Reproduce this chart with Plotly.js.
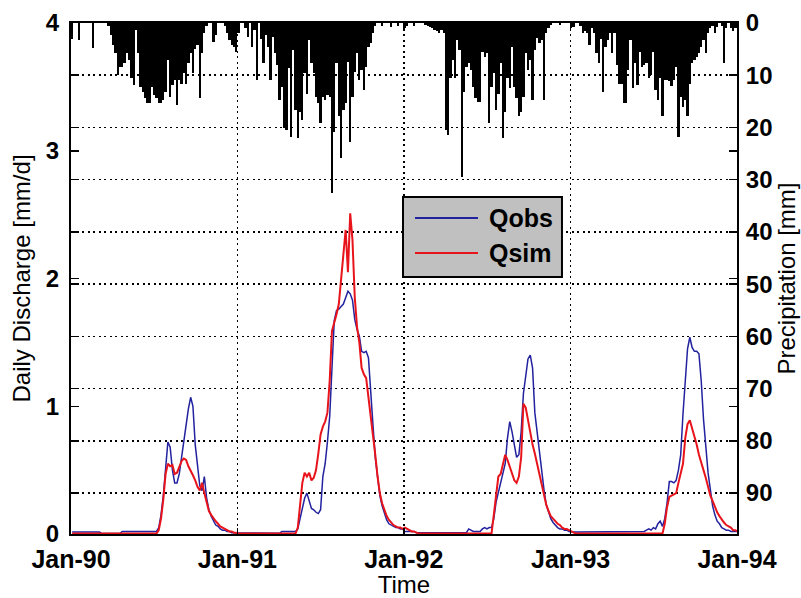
<!DOCTYPE html>
<html>
<head>
<meta charset="utf-8">
<script src="https://cdn.plot.ly/plotly-3.0.1.min.js"></script>
<style>
  html, body { margin: 0; padding: 0; background: #ffffff; }
  #chart { width: 801px; height: 598px; }
</style>
</head>
<body>
<div id="chart"></div>
<script>
// Daily discharge (observed vs simulated) with precipitation hanging from the top,
// Jan 1990 - Dec 1993, sampled every 5 days.

const START_DATE = '1990-01-01';
const STEP_DAYS = 5;

const seriesNames = ['Qobs', 'Qsim'];

const yearTicks = ['1990-01-01', '1991-01-01', '1992-01-01', '1993-01-01', '1994-01-01'];
const yearTickLabels = ['Jan-90', 'Jan-91', 'Jan-92', 'Jan-93', 'Jan-94'];

const dischargeTicks = [0, 1, 2, 3, 4];
const precipTicks = [0, 10, 20, 30, 40, 50, 60, 70, 80, 90];

// Precipitation [mm]
const precip1990 = [
  3.0, 0, 0, 3.3, 0, 0, 0, 0, 0, 4.8,
  0, 0, 0, 0, 0, 0, 0.5, 2.3, 4.2, 5.8,
  10.0, 8.4, 8.4, 7.6, 5.8, 7.1, 10.6, 11.9, 1.3, 5.8,
  12.2, 13.2, 14.4, 15.4, 15.4, 12.2, 13.8, 14.4, 15.4, 15.4,
  14.8, 13.2, 7.1, 14.1, 11.9, 10.9, 15.7, 10.9, 11.6, 9.6,
  11.6, 7.7, 5.8, 9.6, 4.9, 4.2, 14.4, 5.8, 2.0, 0.5,
  0, 0, 3.6, 2.3, 0, 0, 0, 0.5, 2.0, 3.3,
  4.2, 4.5, 5.5
];
const precip1991 = [
  2.0, 0, 0, 1.0, 2.7, 0, 4.5, 1.3, 10.9, 0,
  3.0, 7.7, 2.3, 4.5, 10.9, 2.6, 5.8, 8.0, 14.8, 12.2,
  20.2, 20.5, 8.7, 21.8, 5.2, 16.7, 22.1, 17.0, 18.6, 9.6,
  13.5, 3.3, 7.7, 9.6, 14.1, 15.4, 19.2, 14.1, 14.8, 13.8,
  14.1, 32.6, 20.8, 7.7, 17.9, 25.9, 16.7, 15.4, 7.4, 22.7,
  14.1, 9.3, 5.8, 10.9, 9.0, 12.8, 8.4, 4.5, 3.9, 2.0,
  0.5, 0, 0, 0.5, 0, 0, 0, 0.8, 0, 0,
  0.5, 0, 0
];
const precip1992 = [
  1.0, 0.5, 0, 0, 0.5, 0, 0, 0, 0, 0.3,
  0.5, 0.8, 1.0, 1.3, 1.5, 2.0, 1.3, 2.0, 20.5, 21.5,
  10.6, 7.1, 10.6, 3.3, 5.2, 29.4, 13.2, 8.4, 7.7, 9.0,
  12.2, 14.4, 15.1, 15.1, 5.5, 6.5, 5.8, 19.2, 12.2, 9.6,
  16.7, 13.5, 7.7, 22.1, 17.0, 10.6, 12.5, 4.5, 12.2, 14.4,
  17.9, 17.0, 14.1, 5.8, 9.0, 7.1, 14.8, 5.2, 2.9, 3.9,
  3.3, 14.8, 2.0, 1.0, 0.4, 0, 0, 0, 0.3, 0,
  0, 0, 0
];
const precip1993 = [
  1.0, 0.8, 0, 0, 0.5, 2.0, 1.5, 2.0, 4.2, 1.0,
  2.0, 5.8, 7.7, 3.0, 13.2, 4.5, 3.3, 2.0, 5.8, 2.0,
  8.0, 11.6, 11.6, 15.4, 15.4, 9.0, 3.3, 12.5, 7.7, 11.9,
  5.5, 8.4, 8.0, 7.7, 10.6, 10.0, 5.5, 12.8, 14.8, 10.6,
  17.9, 11.0, 10.9, 11.2, 12.0, 11.0, 8.4, 21.8, 14.1, 16.0,
  14.8, 17.9, 11.6, 7.7, 7.1, 6.5, 5.8, 4.5, 3.3, 5.8,
  2.0, 1.0, 0.5, 2.0, 0.8, 0, 0.5, 7.7, 1.0, 0,
  1.0, 1.5, 1.0, 1.5
];

// Observed discharge [mm/d]
const qobs1990 = [
  0.015, 0.015, 0.015, 0.015, 0.015, 0.015, 0.015, 0.015, 0.015, 0.015,
  0.015, 0.015, 0.015, 0.003, 0.003, 0.003, 0.003, 0.003, 0.003, 0.003,
  0.003, 0.003, 0.02, 0.02, 0.02, 0.02, 0.02, 0.02, 0.02, 0.02,
  0.02, 0.02, 0.02, 0.02, 0.02, 0.02, 0.02, 0.02, 0.05, 0.15,
  0.30, 0.55, 0.72, 0.68, 0.50, 0.40, 0.40, 0.47, 0.60, 0.72,
  0.84, 0.98, 1.07, 1.00, 0.70, 0.52, 0.38, 0.34, 0.45, 0.28,
  0.19, 0.14, 0.10, 0.07, 0.06, 0.04, 0.03, 0.03, 0.02, 0.02,
  0.01, 0.01, 0.01
];
const qobs1991 = [
  0.005, 0.005, 0.005, 0.005, 0.005, 0.005, 0.005, 0.005, 0.005, 0.005,
  0.005, 0.005, 0.005, 0.005, 0.005, 0.005, 0.005, 0.005, 0.005, 0.02,
  0.02, 0.02, 0.02, 0.02, 0.02, 0.02, 0.04, 0.12, 0.22, 0.28,
  0.32, 0.25, 0.20, 0.19, 0.17, 0.16, 0.19, 0.45, 0.55, 0.72,
  0.92, 1.30, 1.67, 1.75, 1.76, 1.78, 1.80, 1.85, 1.90, 1.88,
  1.83, 1.68, 1.60, 1.55, 1.43, 1.42, 1.43, 1.38, 1.15, 0.85,
  0.60, 0.45, 0.30, 0.22, 0.16, 0.11, 0.08, 0.07, 0.06, 0.05,
  0.05, 0.04, 0.04
];
const qobs1992 = [
  0.02, 0.02, 0.02, 0.02, 0.02, 0.01, 0.01, 0.01, 0.01, 0.01,
  0.01, 0.01, 0.01, 0.01, 0.01, 0.01, 0.01, 0.01, 0.01, 0.01,
  0.01, 0.01, 0.01, 0.01, 0.01, 0.01, 0.01, 0.01, 0.04, 0.03,
  0.02, 0.02, 0.02, 0.02, 0.04, 0.05, 0.04, 0.05, 0.05, 0.12,
  0.25, 0.33, 0.40, 0.47, 0.55, 0.75, 0.88, 0.80, 0.70, 0.60,
  0.62, 0.80, 1.10, 1.25, 1.37, 1.40, 1.30, 0.95, 0.80, 0.62,
  0.48, 0.35, 0.23, 0.17, 0.12, 0.09, 0.07, 0.05, 0.04, 0.04,
  0.03, 0.03, 0.02
];
const qobs1993 = [
  0.015, 0.015, 0.015, 0.015, 0.015, 0.015, 0.015, 0.015, 0.015, 0.015,
  0.015, 0.015, 0.015, 0.015, 0.015, 0.015, 0.015, 0.015, 0.015, 0.015,
  0.015, 0.015, 0.015, 0.015, 0.015, 0.015, 0.015, 0.015, 0.015, 0.015,
  0.015, 0.015, 0.02, 0.03, 0.04, 0.03, 0.05, 0.04, 0.08, 0.10,
  0.06, 0.12, 0.24, 0.41, 0.41, 0.40, 0.42, 0.50, 0.62, 0.94,
  1.20, 1.45, 1.54, 1.46, 1.43, 1.43, 1.41, 1.20, 0.90, 0.65,
  0.48, 0.35, 0.22, 0.15, 0.10, 0.08, 0.05, 0.04, 0.03, 0.03,
  0.02, 0.02, 0.02, 0.02
];

// Simulated discharge [mm/d]
const qsim1990 = [
  0.003, 0.003, 0.003, 0.003, 0.003, 0.003, 0.003, 0.003, 0.003, 0.003,
  0.003, 0.003, 0.003, 0.003, 0.003, 0.003, 0.003, 0.003, 0.003, 0.003,
  0.003, 0.003, 0.003, 0.003, 0.003, 0.003, 0.003, 0.003, 0.003, 0.003,
  0.003, 0.003, 0.003, 0.003, 0.003, 0.003, 0.003, 0.003, 0.03, 0.12,
  0.27, 0.47, 0.55, 0.53, 0.54, 0.47, 0.48, 0.53, 0.57, 0.59,
  0.58, 0.53, 0.50, 0.46, 0.42, 0.37, 0.34, 0.40, 0.32, 0.24,
  0.18, 0.15, 0.12, 0.10, 0.08, 0.06, 0.05, 0.04, 0.03, 0.02,
  0.02, 0.01, 0.01
];
const qsim1991 = [
  0.003, 0.003, 0.003, 0.003, 0.003, 0.003, 0.003, 0.003, 0.003, 0.003,
  0.003, 0.003, 0.003, 0.003, 0.003, 0.003, 0.003, 0.003, 0.003, 0.003,
  0.003, 0.003, 0.003, 0.003, 0.003, 0.003, 0.05, 0.25, 0.40, 0.48,
  0.45, 0.48, 0.42, 0.44, 0.50, 0.63, 0.78, 0.84, 0.88, 0.95,
  1.20, 1.59, 1.65, 1.72, 1.80, 1.98, 2.15, 2.38, 2.05, 2.51,
  2.30, 1.85, 1.62, 1.50, 1.30, 1.25, 1.22, 1.07, 0.95, 0.81,
  0.62, 0.45, 0.32, 0.24, 0.18, 0.14, 0.11, 0.09, 0.07, 0.06,
  0.05, 0.05, 0.04
];
const qsim1992 = [
  0.05, 0.04, 0.03, 0.02, 0.02, 0.01, 0.003, 0.003, 0.003, 0.003,
  0.003, 0.003, 0.003, 0.003, 0.003, 0.003, 0.003, 0.003, 0.003, 0.003,
  0.003, 0.003, 0.003, 0.003, 0.003, 0.003, 0.003, 0.003, 0.003, 0.003,
  0.003, 0.003, 0.003, 0.003, 0.003, 0.003, 0.003, 0.003, 0.003, 0.15,
  0.32, 0.45, 0.47, 0.55, 0.62, 0.58, 0.53, 0.48, 0.42, 0.40,
  0.45, 0.60, 1.02, 0.99, 0.89, 0.81, 0.70, 0.63, 0.55, 0.45,
  0.38, 0.30, 0.23, 0.18, 0.14, 0.12, 0.10, 0.08, 0.07, 0.05,
  0.04, 0.04, 0.03
];
const qsim1993 = [
  0.02, 0.01, 0.003, 0.003, 0.003, 0.003, 0.003, 0.003, 0.003, 0.003,
  0.003, 0.003, 0.003, 0.003, 0.003, 0.003, 0.003, 0.003, 0.003, 0.003,
  0.003, 0.003, 0.003, 0.003, 0.003, 0.003, 0.003, 0.003, 0.003, 0.003,
  0.003, 0.003, 0.003, 0.003, 0.003, 0.003, 0.003, 0.003, 0.003, 0.003,
  0.003, 0.08, 0.21, 0.29, 0.30, 0.31, 0.32, 0.40, 0.47, 0.55,
  0.75, 0.86, 0.89, 0.83, 0.76, 0.70, 0.62, 0.55, 0.50, 0.44,
  0.36, 0.30, 0.26, 0.21, 0.17, 0.14, 0.11, 0.09, 0.07, 0.06,
  0.05, 0.03, 0.03, 0.02
];

const precip = [].concat(precip1990, precip1991, precip1992, precip1993);
const qobs = [].concat(qobs1990, qobs1991, qobs1992, qobs1993);
const qsim = [].concat(qsim1990, qsim1991, qsim1992, qsim1993);

// Sample dates: middle of each 5-day window
const DAY_MS = 86400000;
const t0 = Date.parse(START_DATE + 'T00:00:00Z');
const dates = precip.map((_, i) =>
  new Date(t0 + (i * STEP_DAYS + STEP_DAYS / 2) * DAY_MS).toISOString().slice(0, 19).replace('T', ' '));

const FONT = 'Arial, "Liberation Sans", Helvetica, sans-serif';
const xTickFont = { family: FONT, size: 25, color: '#000', weight: 700 };
const yTickFont = { family: FONT, size: 24, color: '#000', weight: 700 };
const titleFont = { family: FONT, size: 24, color: '#000' };
const legendFont = { family: FONT, size: 25, color: '#000', weight: 700 };
const OBS_COLOR = '#22229f';
const SIM_COLOR = '#e8141c';
const GRID_DASH = '2px,3.5px';

const traces = [
  {
    type: 'bar', x: dates, y: precip, yaxis: 'y2', name: 'Precipitation',
    width: STEP_DAYS * DAY_MS, marker: { color: '#000', line: { width: 0 } },
    showlegend: false, hoverinfo: 'x+y'
  },
  {
    type: 'scatter', mode: 'lines', x: dates, y: qobs, name: seriesNames[0],
    line: { color: OBS_COLOR, width: 1.5 }, showlegend: false
  },
  {
    type: 'scatter', mode: 'lines', x: dates, y: qsim, name: seriesNames[1],
    line: { color: SIM_COLOR, width: 2 }, showlegend: false
  }
];

// Legend box drawn in paper coordinates
const LG = { x0: 0.4985, x1: 0.7372, y0: 0.503, y1: 0.6595 };
const legendRows = [0.6184, 0.5499];
const legendColors = [OBS_COLOR, SIM_COLOR];

const shapes = [
  { type: 'rect', xref: 'paper', yref: 'paper', x0: LG.x0, x1: LG.x1, y0: LG.y0, y1: LG.y1,
    fillcolor: '#c0c0c0', line: { color: '#000', width: 2 }, layer: 'above' }
];
const annotations = [];
seriesNames.forEach((name, k) => {
  shapes.push({ type: 'line', xref: 'paper', yref: 'paper',
    x0: 0.5165, x1: 0.6111, y0: legendRows[k], y1: legendRows[k],
    line: { color: legendColors[k], width: 2 }, layer: 'above' });
  annotations.push({ xref: 'paper', yref: 'paper', x: 0.6246, y: legendRows[k],
    xanchor: 'left', yanchor: 'middle', text: name, showarrow: false, font: legendFont });
});

const layout = {
  width: 801, height: 598,
  margin: { l: 71, r: 64, t: 23, b: 64 },
  paper_bgcolor: '#fff', plot_bgcolor: '#fff',
  showlegend: false,
  bargap: 0,
  xaxis: {
    type: 'date',
    range: [yearTicks[0], yearTicks[yearTicks.length - 1]],
    tickmode: 'array', tickvals: yearTicks, ticktext: yearTickLabels,
    tickfont: xTickFont, tickangle: 0,
    ticks: 'inside', ticklen: 6, tickwidth: 1.5, tickcolor: '#000',
    showline: true, linecolor: '#000', linewidth: 2, mirror: 'ticks',
    showgrid: true, gridcolor: '#000', gridwidth: 1.5, griddash: GRID_DASH,
    zeroline: false, automargin: false,
    ticklabelstandoff: 2,
    title: { text: 'Time', font: titleFont, standoff: 7 }
  },
  yaxis: {
    range: [0, 4],
    tickmode: 'array', tickvals: dischargeTicks,
    tickfont: yTickFont,
    ticks: 'inside', ticklen: 8, tickwidth: 1.5, tickcolor: '#000',
    showline: true, linecolor: '#000', linewidth: 2, mirror: 'ticks',
    showgrid: false, zeroline: false, automargin: false,
    ticklabelstandoff: 5,
    title: { text: 'Daily Discharge [mm/d]', font: titleFont, standoff: 8 }
  },
  yaxis2: {
    overlaying: 'y', side: 'right',
    range: [97.85, 0],
    tickmode: 'array', tickvals: precipTicks,
    tickfont: yTickFont,
    ticks: 'inside', ticklen: 8, tickwidth: 1.5, tickcolor: '#000',
    showline: true, linecolor: '#000', linewidth: 2, mirror: 'ticks',
    showgrid: true, gridcolor: '#000', gridwidth: 1.5, griddash: GRID_DASH,
    zeroline: false, automargin: false,
    ticklabelstandoff: 2,
    title: { text: 'Precipitation [mm]', font: titleFont, standoff: 4 }
  },
  shapes: shapes,
  annotations: annotations
};

Plotly.newPlot('chart', traces, layout, { displayModeBar: false, staticPlot: true });
</script>
</body>
</html>
